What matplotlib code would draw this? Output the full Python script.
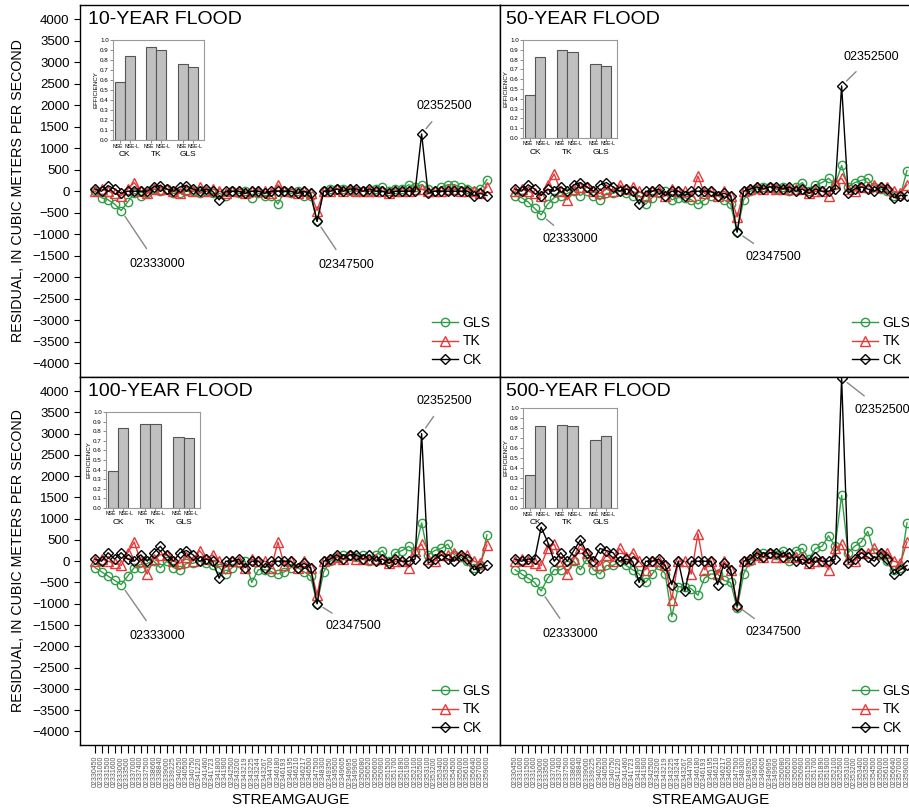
import matplotlib
matplotlib.use("Agg")
import matplotlib.pyplot as plt
import numpy as np

plt.rcParams['font.family'] = ['Liberation Sans', 'DejaVu Sans']

gauges = ["02330450","02331000","02331500","02331600","02333000","02333500","02337000","02337400",
          "02337500","02338660","02338840","02339000","02339225","02340250","02340500","02340750",
          "02341220","02341460","02341723","02341800","02341900","02342500","02343200","02343219",
          "02343225","02343244","02343267","02344700","02346180","02346193","02346195","02346210",
          "02346217","02346500","02347500","02348300","02349350","02349500","02349605","02349695",
          "02349900","02350080","02350520","02350600","02350900","02351500","02351700","02351890",
          "02351900","02352100","02352500","02353100","02353200","02353400","02353500","02354500",
          "02355000","02356100","02356640","02357000","02359000"]

# ---- 10-year flood residuals ----
gls_10 = [0,-150,-200,-300,-450,-250,-50,-100,-50,50,0,50,-50,-50,0,0,-50,0,-50,-50,-100,0,-50,0,-150,-50,-100,-100,-300,0,
          -50,0,-100,-100,-700,0,50,50,50,0,0,0,0,50,100,0,50,50,150,100,150,50,0,100,150,150,100,50,0,50,270]
tk_10 = [0,50,0,-50,-100,50,200,0,-50,50,50,50,0,-50,50,0,100,0,50,0,-50,0,0,-50,0,0,0,-50,150,0,
         0,-50,0,-50,-450,0,0,50,0,50,0,0,0,0,0,-50,0,0,0,50,50,0,0,0,50,50,0,0,0,-50,100]
ck_10 = [50,0,130,50,-50,0,0,0,0,100,130,50,0,100,130,50,0,50,0,-200,0,0,0,-50,0,0,-50,0,0,0,
         0,-50,0,-50,-700,0,0,50,0,50,50,0,50,0,0,-50,0,0,0,0,1330,-50,0,0,0,0,0,0,-100,-50,-100]

# ---- 50-year flood residuals ----
gls_50 = [-100,-150,-250,-400,-550,-300,-150,-100,-50,0,-100,0,-100,-200,-50,-50,0,-50,-100,-100,-300,-150,-50,0,-200,-150,-150,-200,-300,-200,
          -100,-100,-200,-300,-950,-200,0,50,100,100,50,100,0,100,200,0,150,200,300,150,600,100,200,250,300,100,50,0,-100,-100,480]
tk_50 = [0,50,0,-50,-100,150,400,0,-200,50,100,100,0,-50,50,0,150,50,100,0,-100,0,0,-100,50,0,0,-100,350,-50,
         0,-100,0,-100,-600,0,50,100,50,100,50,50,50,50,50,-50,0,0,-100,200,300,50,0,100,100,150,100,100,0,-50,150]
ck_50 = [50,0,150,50,-100,50,0,100,0,150,200,100,0,150,200,100,0,50,0,-300,0,0,50,-100,0,0,-100,0,0,0,
         0,-100,-50,-100,-950,0,50,100,50,100,100,50,100,0,50,-50,50,0,0,50,2450,-50,50,100,50,0,100,50,-150,-100,-100]

# ---- 100-year flood residuals ----
gls_100 = [-150,-250,-350,-450,-550,-350,-150,-150,-50,0,-150,0,-150,-200,-50,-50,0,-50,-100,-150,-300,-150,-50,0,-500,-200,-200,-250,-300,-250,
           -150,-150,-250,-350,-1000,-250,0,100,150,150,100,150,0,150,250,0,200,250,350,250,900,150,250,300,400,150,100,0,-150,-100,620]
tk_100 = [0,50,0,-50,-100,200,450,0,-300,50,150,150,0,-50,100,0,250,50,150,0,-150,0,0,-150,50,0,0,-150,450,-100,
          0,-150,0,-150,-800,0,50,100,50,150,50,50,50,50,50,-50,0,0,-150,250,400,50,0,150,150,200,150,150,0,-50,380]
ck_100 = [50,0,200,50,200,50,0,150,0,200,350,150,0,200,250,150,0,50,0,-400,0,0,50,-150,0,0,-150,0,0,0,
          0,-150,-50,-150,-1000,0,50,150,50,150,150,50,150,0,50,-50,50,0,0,50,3000,-50,50,150,50,0,150,50,-200,-150,-100]

# ---- 500-year flood residuals ----
gls_500 = [-200,-300,-400,-500,-700,-400,-200,-200,-100,0,-200,50,-200,-300,-100,-100,0,-100,-200,-300,-500,-300,-100,-300,-1300,-600,-600,-650,-800,-400,
           -300,-300,-450,-500,-1100,-300,0,150,200,200,150,250,0,250,300,50,300,350,600,350,1550,200,350,450,700,200,150,0,-200,-150,900]
tk_500 = [0,50,0,-50,-100,300,400,0,-300,50,300,200,0,-100,150,0,300,100,200,0,-200,0,0,-100,-900,0,0,-300,650,-200,
          0,-300,0,-200,-1000,0,50,150,100,200,100,100,100,100,100,-50,0,0,-200,300,400,50,0,200,200,300,200,200,0,-50,450]
ck_500 = [50,0,50,50,800,450,0,200,0,250,500,200,0,300,250,200,0,50,0,-500,0,0,50,-100,-550,0,-700,0,0,0,
          0,-550,-50,-200,-1050,0,50,200,100,200,200,100,200,0,50,-50,100,0,0,50,4300,-50,50,200,100,0,200,50,-300,-200,-100]

# ---- efficiency (inset bars): CK NSE, CK NSE-L, TK NSE, TK NSE-L, GLS NSE, GLS NSE-L ----
eff_10 = [0.58, 0.84, 0.93, 0.90, 0.76, 0.73]
eff_50 = [0.44, 0.83, 0.90, 0.88, 0.76, 0.73]
eff_100 = [0.39, 0.83, 0.88, 0.87, 0.74, 0.73]
eff_500 = [0.33, 0.82, 0.83, 0.82, 0.68, 0.72]

titles = ["10-YEAR FLOOD", "50-YEAR FLOOD", "100-YEAR FLOOD", "500-YEAR FLOOD"]
models = ["CK", "TK", "GLS"]
metrics = ["NSE", "NSE-L"]

W, H = 909, 808
fig = plt.figure(figsize=(W/100, H/100), dpi=100)

def fr(x0, y0, x1, y1):
    return [x0/W, 1 - y1/H, (x1-x0)/W, (y1-y0)/H]

panel_px = [(80, 5, 500, 377), (500, 5, 920, 377), (80, 377, 500, 745), (500, 377, 920, 745)]
inset_px = [(113, 40, 204, 140), (523, 40, 617, 138), (106, 412, 200, 508), (523, 408, 617, 508)]
data = [(gls_10, tk_10, ck_10, eff_10), (gls_50, tk_50, ck_50, eff_50),
        (gls_100, tk_100, ck_100, eff_100), (gls_500, tk_500, ck_500, eff_500)]
# annotation text positions (x index, y value) per panel: 02352500, 02333000, 02347500
ann = [[(53.5, 1970), (9.5, -1700), (38.5, -1720)],
       [(54.5, 3120), (8.5, -1120), (39.5, -1530)],
       [(53.5, 3770), (9.5, -1760), (39.5, -1530)],
       [(56.2, 3560), (8.5, -1710), (39.5, -1670)]]

green = '#2e9e45'
red = '#e8393a'
x = np.arange(len(gauges))

for k in range(4):
    ax = fig.add_axes(fr(*panel_px[k]))
    gls, tk, ck, eff = data[k]
    ax.plot(x, gls, color=green, lw=1.0, marker='o', ms=6, mfc='none', mec=green, mew=1.0, label='GLS')
    ax.plot(x, tk, color=red, lw=1.0, marker='^', ms=6.5, mfc='none', mec=red, mew=1.0, label='TK')
    ax.plot(x, ck, color='black', lw=1.0, marker='D', ms=5, mfc='none', mec='black', mew=1.0, label='CK')
    ax.set_xlim(-2.3, 62.0)
    ax.set_ylim(-4320, 4330)
    ax.set_yticks(np.arange(-4000, 4001, 500))
    for s in ax.spines.values():
        s.set_linewidth(1.0)
    if k % 2 == 0:
        ax.tick_params(axis='y', direction='out', length=4, labelsize=9.5)
        ax.set_ylabel("RESIDUAL, IN CUBIC METERS PER SECOND", fontsize=10.3, labelpad=5)
    else:
        ax.tick_params(axis='y', left=False, labelleft=False)
    if k >= 2:
        ax.set_xticks(x)
        ax.set_xticklabels(gauges, rotation=90, fontsize=5, color='#555555')
        ax.tick_params(axis='x', direction='out', length=6, pad=2)
        ax.set_xlabel("STREAMGAUGE", fontsize=11, labelpad=4)
    else:
        ax.set_xticks([])
    ax.text(0.02 if k % 2 == 0 else 0.015, 0.985, titles[k], transform=ax.transAxes, fontsize=14,
            va='top', ha='left')
    ax.legend(loc='lower right', frameon=False, fontsize=10, handlelength=1.9, handletextpad=0.3,
              borderaxespad=0.3, labelspacing=0.35, bbox_to_anchor=(1.0, 0.0))
    # annotations
    targets = [(50, ck[50]), (4, gls[4]), (34, ck[34])]
    names = ["02352500", "02333000", "02347500"]
    for (tx, ty), (px, py), nm in zip(ann[k], targets, names):
        ax.annotate(nm, xy=(px, py), xytext=(tx, ty), fontsize=9, ha='center', va='center',
                    arrowprops=dict(arrowstyle='-', color='#888888', lw=1.0, shrinkA=6, shrinkB=5))

    # inset
    ia = fig.add_axes(fr(*inset_px[k]))
    pos = [0, 1, 3.1, 4.1, 6.33, 7.33]
    ia.bar(pos, eff, width=1.0, color='#c0c0c0', edgecolor='#555555', linewidth=0.8)
    ia.set_xlim(-0.67, 8.4)
    ia.set_ylim(0, 1.0)
    ia.set_yticks(np.arange(0, 1.01, 0.1))
    ia.set_yticklabels([f"{v:.1f}" for v in np.arange(0, 1.01, 0.1)], fontsize=4.5)
    ia.set_xticks(pos)
    ia.set_xticklabels([])
    ia.tick_params(axis='both', length=2, width=0.6, pad=1, color='#777777')
    ia.set_ylabel("EFFICIENCY", fontsize=4.5, labelpad=1)
    for s in ia.spines.values():
        s.set_color('#999999')
        s.set_linewidth(0.8)
    xt = ia.get_xaxis_transform()
    for j, p in enumerate(pos):
        lab = metrics[j % 2]
        off = -0.18 if j % 2 == 0 else 0.22
        ia.text(p + off, -0.035, lab, transform=xt, fontsize=3.7, ha='center', va='top')
    for gx, m in zip([0.5, 3.6, 6.83], models):
        ia.text(gx, -0.11, m, transform=xt, fontsize=6, ha='center', va='top')

fig.savefig("out.png", dpi=100)
